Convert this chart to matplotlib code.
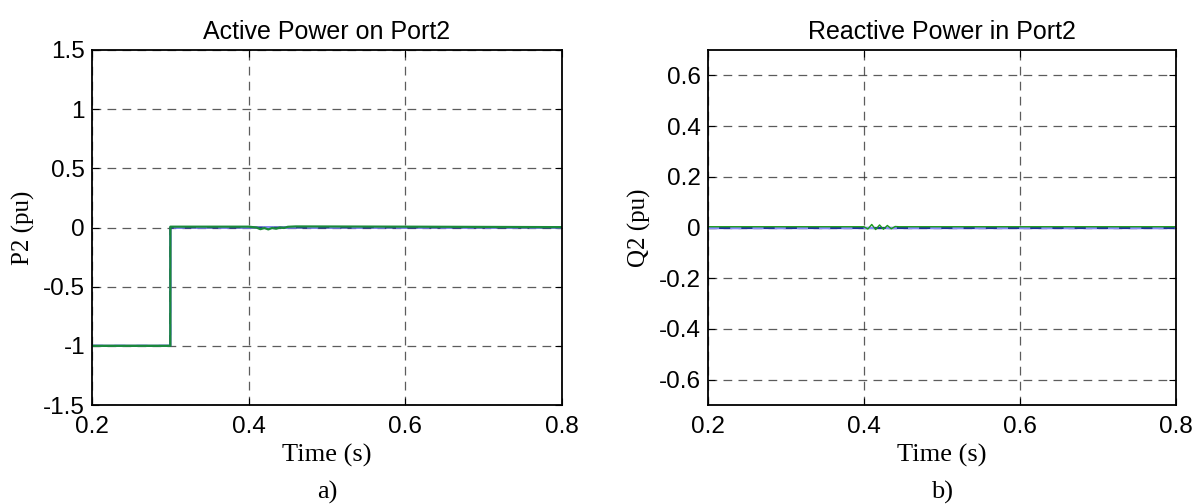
import numpy as np
import matplotlib.pyplot as plt

# Port2 active power (pu) - step from -1 to 0 at t=0.3 s
t_p = [0.2, 0.2999, 0.3, 0.40, 0.41, 0.415, 0.42, 0.425, 0.43, 0.435, 0.44, 0.445, 0.45, 0.46, 0.6, 0.8]
p_ref = [-1, -1, 0, 0, 0, 0, 0, 0, 0, 0, 0, 0, 0, 0, 0, 0]
p_meas = [-1, -1, 0.007, 0.007, 0.0, -0.014, -0.004, -0.016, -0.004, -0.01, 0.0, -0.004, 0.006, 0.009, 0.007, 0.003]

# Port2 reactive power (pu)
t_q = [0.2, 0.40, 0.405, 0.41, 0.415, 0.42, 0.425, 0.43, 0.435, 0.44, 0.445, 0.6, 0.8]
q_ref = [0, 0, 0, 0, 0, 0, 0, 0, 0, 0, 0, 0, 0]
q_meas = [0.003, 0.003, -0.006, 0.012, -0.008, 0.01, -0.007, 0.008, -0.005, 0.004, 0.003, 0.003, 0.003]

xticks = [0.2, 0.4, 0.6, 0.8]
p_ticks = [-1.5, -1, -0.5, 0, 0.5, 1, 1.5]
q_ticks = [-0.6, -0.4, -0.2, 0, 0.2, 0.4, 0.6]

sans = 'Liberation Sans'
serif = 'Liberation Serif'

fig = plt.figure(figsize=(12.03, 5.04), dpi=100)
ax1 = fig.add_axes([0.0765, 0.1964, 0.3907, 0.7044])
ax2 = fig.add_axes([0.5885, 0.1964, 0.389, 0.7044])


def style(ax, yt, ylim, ylab, title, tag):
    ax.set_xlim(0.2, 0.8)
    ax.set_ylim(*ylim)
    ax.set_xticks(xticks)
    ax.set_xticklabels(['%g' % v for v in xticks], fontfamily=sans, fontsize=17.5)
    ax.set_yticks(yt)
    ax.set_yticklabels(['%g' % v for v in yt], fontfamily=sans, fontsize=17.5)
    ax.tick_params(direction='in', length=5, width=0.8, top=True, right=True)
    ax.tick_params(axis='x', pad=8)
    ax.tick_params(axis='y', pad=5)
    ax.grid(True, color='#333333', linestyle=(0, (7, 5)), linewidth=0.9, alpha=0.8)
    for s in ax.spines.values():
        s.set_linewidth(1.3)
    ax.set_title(title, fontfamily=sans, fontsize=18, pad=8)
    ax.set_xlabel('Time (s)', fontfamily=serif, fontsize=19, labelpad=4)
    ax.set_ylabel(ylab, fontfamily=serif, fontsize=18, labelpad=6)
    ax.text(0.5, -0.215, tag, transform=ax.transAxes, ha='center', va='top',
            fontfamily=serif, fontsize=19)


ax1.plot(t_p, p_ref, color='#1f2fa0', lw=1.6)
ax1.plot(t_p, p_ref, color='#8a8aff', lw=1.6, ls=(0, (5, 5)))
ax1.plot(t_p, p_meas, color='#1a8a3a', lw=1.6)
style(ax1, p_ticks, (-1.5, 1.5), 'P2 (pu)', 'Active Power on Port2', 'a)')

ax2.plot(t_q, q_ref, color='#1f2fa0', lw=1.6)
ax2.plot(t_q, q_ref, color='#8a8aff', lw=1.6, ls=(0, (5, 5)))
ax2.plot(t_q, q_meas, color='#1a9a1a', lw=1.0)
style(ax2, q_ticks, (-0.7, 0.7), 'Q2 (pu)', 'Reactive Power in Port2', 'b)')

plt.savefig('out.png', dpi=100)
